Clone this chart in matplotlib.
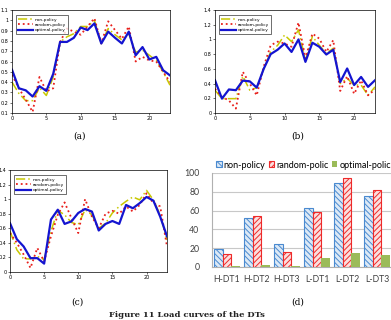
import matplotlib.pyplot as plt
import numpy as np

hours = np.arange(24)

# panel (a)
a_non = [0.40, 0.29, 0.22, 0.22, 0.345, 0.27, 0.45, 0.79, 0.84, 0.87, 0.94, 0.94,
         1.00, 0.775, 0.92, 0.86, 0.81, 0.87, 0.69, 0.71, 0.66, 0.61, 0.50, 0.37]
a_rand = [0.47, 0.34, 0.23, 0.11, 0.45, 0.31, 0.34, 0.79, 0.92, 0.89, 0.86, 0.94,
          1.02, 0.775, 0.99, 0.905, 0.82, 0.94, 0.60, 0.645, 0.61, 0.60, 0.50, 0.40]
a_opt = [0.52, 0.34, 0.32, 0.26, 0.36, 0.315, 0.48, 0.79, 0.79, 0.83, 0.93, 0.905,
         0.97, 0.775, 0.89, 0.83, 0.775, 0.89, 0.66, 0.74, 0.62, 0.645, 0.515, 0.465]

# panel (b)
b_non = [0.31, 0.195, 0.195, 0.195, 0.50, 0.31, 0.345, 0.60, 0.83, 0.92, 1.06, 0.97,
         1.13, 0.72, 1.04, 0.92, 0.81, 0.88, 0.40, 0.47, 0.38, 0.38, 0.24, 0.355]
b_rand = [0.33, 0.22, 0.17, 0.06, 0.56, 0.40, 0.24, 0.63, 0.92, 0.97, 0.945, 0.90,
          1.23, 0.74, 1.08, 1.01, 0.83, 0.99, 0.30, 0.50, 0.26, 0.445, 0.24, 0.32]
b_opt = [0.445, 0.195, 0.32, 0.31, 0.44, 0.43, 0.345, 0.60, 0.80, 0.86, 0.945, 0.83,
         1.00, 0.695, 0.955, 0.90, 0.795, 0.86, 0.42, 0.605, 0.38, 0.49, 0.355, 0.445]

# panel (c)
c_non = [0.56, 0.305, 0.18, 0.18, 0.215, 0.17, 0.56, 0.845, 0.785, 0.68, 0.65, 0.855,
         0.785, 0.60, 0.67, 0.81, 0.90, 0.97, 1.03, 0.99, 1.12, 0.99, 0.785, 0.44]
c_rand = [0.535, 0.40, 0.24, 0.055, 0.33, 0.145, 0.49, 0.785, 0.955, 0.74, 0.535, 1.00,
          0.76, 0.60, 0.80, 0.84, 0.80, 0.90, 0.83, 0.92, 1.08, 0.945, 0.90, 0.35]
c_opt = [0.67, 0.45, 0.35, 0.19, 0.19, 0.115, 0.72, 0.855, 0.66, 0.695, 0.81, 0.865,
         0.83, 0.57, 0.66, 0.70, 0.66, 0.92, 0.875, 0.945, 1.03, 0.98, 0.76, 0.49]

# panel (d)
dt_names = ['H-DT1', 'H-DT2', 'H-DT3', 'L-DT1', 'L-DT2', 'L-DT3']
d_non = [19, 52, 24, 63, 89, 76]
d_rand = [14, 54, 16, 59, 95, 82]
d_opt = [1.5, 2.5, 1.5, 10, 14.5, 12.5]

fig = plt.figure(figsize=(3.91, 3.2), dpi=100)


def line_panel(rect, non, rand, opt, yticks, ylabels):
    ax = fig.add_axes(rect)
    ax.plot(hours, non, color='#c8c800', ls=(0, (6, 2, 1, 2)), lw=1.1, label='non-policy')
    ax.plot(hours, rand, color='#e8201c', ls=':', lw=1.3, label='random-policy')
    ax.plot(hours, opt, color='#1414d0', lw=1.6, label='optimal-policy')
    ax.set_xlim(0, 23)
    ax.set_ylim(yticks[0], yticks[-1])
    ax.set_xticks([0, 5, 10, 15, 20])
    ax.set_yticks(yticks)
    ax.set_yticklabels(ylabels)
    ax.tick_params(labelsize=3.5, length=1.5, width=0.4, pad=1)
    for s in ax.spines.values():
        s.set_linewidth(0.5)
    leg = ax.legend(loc='upper left', fontsize=3.2, handlelength=3.4, borderpad=0.5,
                    labelspacing=0.25, handletextpad=0.4, fancybox=False,
                    edgecolor='black', bbox_to_anchor=(0.01, 0.97))
    leg.get_frame().set_linewidth(0.5)
    return ax


a_ticks = [0.1, 0.2, 0.3, 0.4, 0.5, 0.6, 0.7, 0.8, 0.9, 1.0, 1.1]
a_labels = ['0.1', '0.2', '0.3', '0.4', '0.5', '0.6', '0.7', '0.8', '0.9', '1', '1.1']
bc_ticks = [0, 0.2, 0.4, 0.6, 0.8, 1.0, 1.2, 1.4]
bc_labels = ['0', '0.2', '0.4', '0.6', '0.8', '1', '1.2', '1.4']

line_panel([12 / 391, 1 - 113 / 320, 158 / 391, 103 / 320], a_non, a_rand, a_opt, a_ticks, a_labels)
line_panel([215 / 391, 1 - 113 / 320, 160 / 391, 103 / 320], b_non, b_rand, b_opt, bc_ticks, bc_labels)
line_panel([10 / 391, 1 - 272 / 320, 157 / 391, 102 / 320], c_non, c_rand, c_opt, bc_ticks, bc_labels)

# bar chart (d)
plt.rcParams['hatch.linewidth'] = 0.7
axd = fig.add_axes([212 / 391, 1 - 267 / 320, 180 / 391, 94 / 320])
x = np.arange(len(dt_names))
w = 0.283
axd.bar(x - w, d_non, w, facecolor='#dce9f6', edgecolor='#4a8ad0', hatch='\\\\\\\\\\\\',
        lw=0.8, label='non-policy', zorder=3)
axd.bar(x, d_rand, w, facecolor='#fbdede', edgecolor='#ee2a2a', hatch='//////',
        lw=0.8, label='random-polic', zorder=3)
axd.bar(x + w, d_opt, w, color='#9bbb59', label='optimal-polic', zorder=3)
axd.set_xlim(-0.5, 5.5)
axd.set_ylim(0, 100)
axd.set_yticks([0, 20, 40, 60, 80, 100])
axd.set_xticks(x)
axd.set_xticklabels(dt_names)
axd.yaxis.grid(True, color='#c8c8c8', lw=0.8, zorder=0)
axd.tick_params(length=0, labelsize=6.3, colors='#404040', pad=6)
axd.tick_params(axis='y', pad=9)
for lab in axd.get_xticklabels() + axd.get_yticklabels():
    lab.set_family('Lato')
for s in ['top', 'right']:
    axd.spines[s].set_visible(False)
axd.spines['left'].set_color('#b0b0b0')
axd.spines['bottom'].set_color('#b0b0b0')
fig.legend(*axd.get_legend_handles_labels(), loc='center left',
           bbox_to_anchor=(208 / 391, 1 - 165 / 320), ncol=3, frameon=False,
           prop={'family': 'Lato', 'size': 6.5}, handlelength=0.6, handleheight=0.6,
           handletextpad=0.25, columnspacing=0.35)

# panel captions
cap = dict(family='DejaVu Serif', fontsize=6.5, ha='center', va='center')
fig.text(80 / 391, 1 - 136 / 320, '(a)', **cap)
fig.text(298 / 391, 1 - 136 / 320, '(b)', **cap)
fig.text(77 / 391, 1 - 302 / 320, '(c)', **cap)
fig.text(298 / 391, 1 - 302 / 320, '(d)', **cap)
fig.text(187 / 391, 1 - 311 / 320, 'Figure 11 Load curves of the DTs', family='DejaVu Serif',
         fontsize=6, fontweight='bold', ha='center', va='top', color='#222222')

fig.savefig('out.png', dpi=100)
